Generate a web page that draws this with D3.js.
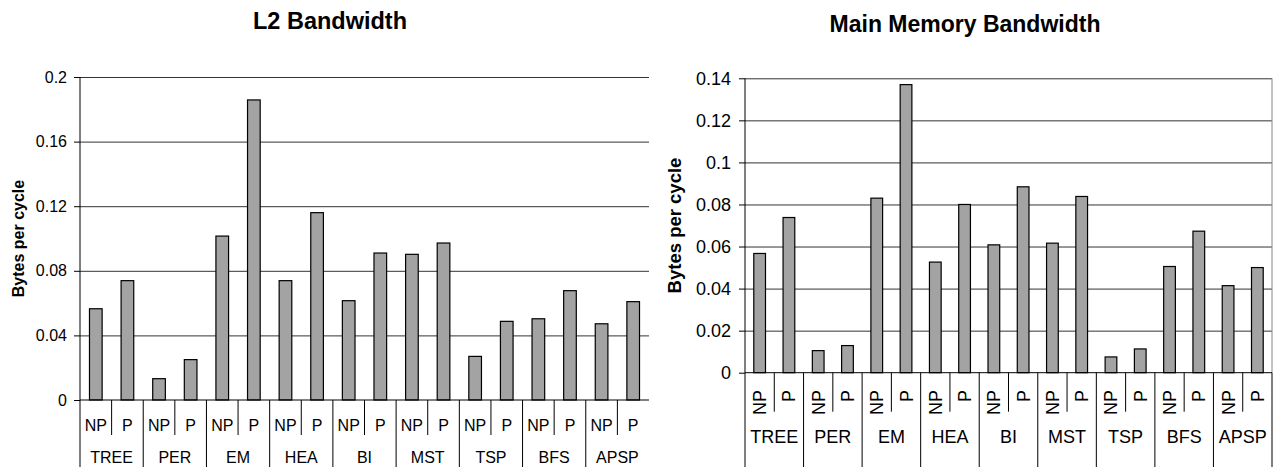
<!DOCTYPE html>
<html>
<head>
<meta charset="utf-8">
<script src="https://cdn.jsdelivr.net/npm/d3@7"></script>
<style>
  body { margin: 0; background: #fff; }
  svg { font-family: "Liberation Sans", Arial, sans-serif; }
  .axis path { display: none; }
  .axis line { stroke: #000; }
  .grid line { stroke: #333; }
  .grid path, .grid text { display: none; }
</style>
</head>
<body>
<script>
var groups = ["TREE", "PER", "EM", "HEA", "BI", "MST", "TSP", "BFS", "APSP"];
var modes = ["NP", "P"];

var l2NP = [0.0565, 0.0132, 0.1015, 0.0739, 0.0615, 0.0902, 0.0270, 0.0503, 0.0472];
var l2P  = [0.0739, 0.0250, 0.1858, 0.1160, 0.0910, 0.0972, 0.0487, 0.0677, 0.0609];
var l2Ticks = [0, 0.04, 0.08, 0.12, 0.16, 0.2];

var memNP = [0.0567, 0.0105, 0.0830, 0.0526, 0.0608, 0.0616, 0.0075, 0.0505, 0.0414];
var memP  = [0.0738, 0.0129, 0.1370, 0.0800, 0.0884, 0.0838, 0.0113, 0.0673, 0.0500];
var memTicks = [0, 0.02, 0.04, 0.06, 0.08, 0.1, 0.12, 0.14];

var svg = d3.select("body").append("svg")
  .attr("width", 1279)
  .attr("height", 467);

function rows(np, p) {
  return groups.map(function(g, i) {
    return {group: g, values: [{mode: "NP", v: np[i]}, {mode: "P", v: p[i]}]};
  });
}

function drawChart(c) {
  var x0 = d3.scaleBand().domain(groups).range([c.left, c.right]);
  var x1 = d3.scaleBand().domain(modes).range([0, x0.bandwidth()])
    .paddingInner(0.6).paddingOuter(0.3);
  var y = d3.scaleLinear().domain([0, c.max]).range([c.bottom, c.top]);

  var g = svg.append("g");

  // gridlines
  g.append("g")
    .attr("class", "grid")
    .attr("transform", "translate(" + c.left + ",0)")
    .call(d3.axisLeft(y).tickValues(c.ticks.slice(1)).tickSize(-(c.right - c.left)));

  if (c.border) {
    g.append("line")
      .attr("x1", c.right).attr("x2", c.right)
      .attr("y1", y(c.max)).attr("y2", y(0))
      .attr("stroke", "#888");
  }

  // bars
  var grp = g.selectAll(".grp")
    .data(rows(c.np, c.p))
    .enter().append("g")
    .attr("transform", function(d) { return "translate(" + x0(d.group) + ",0)"; });

  grp.selectAll("rect")
    .data(function(d) { return d.values; })
    .enter().append("rect")
    .attr("x", function(d) { return x1(d.mode); })
    .attr("width", x1.bandwidth())
    .attr("y", function(d) { return y(d.v); })
    .attr("height", function(d) { return y(0) - y(d.v); })
    .attr("fill", "#a3a3a3")
    .attr("stroke", "#000")
    .attr("stroke-width", 1.2);

  // y axis
  var ya = g.append("g")
    .attr("class", "axis")
    .attr("transform", "translate(" + c.left + ",0)")
    .call(d3.axisLeft(y).tickValues(c.ticks).tickSize(6).tickPadding(c.tickPad)
      .tickFormat(function(d) { return String(+d.toFixed(2)); }));
  ya.selectAll("text").attr("font-size", c.font).attr("fill", "#000").attr("font-family", null);
  g.append("line")
    .attr("x1", c.left).attr("x2", c.left)
    .attr("y1", y(c.max)).attr("y2", 467)
    .attr("stroke", "#000");

  // x axis baseline
  g.append("line")
    .attr("x1", c.left).attr("x2", c.right)
    .attr("y1", y(0)).attr("y2", y(0))
    .attr("stroke", "#000");

  // group dividers
  g.selectAll(".gdiv")
    .data(groups.slice(1).concat(c.lastDiv ? ["end"] : []))
    .enter().append("line")
    .attr("x1", function(d) { return d == "end" ? c.right : x0(d); })
    .attr("x2", function(d) { return d == "end" ? c.right : x0(d); })
    .attr("y1", y(0)).attr("y2", 467)
    .attr("stroke", "#000");

  // sub dividers
  grp.append("line")
    .attr("x1", x0.bandwidth() / 2).attr("x2", x0.bandwidth() / 2)
    .attr("y1", y(0)).attr("y2", c.subBottom)
    .attr("stroke", "#000");

  // sub labels
  grp.selectAll(".sub")
    .data(modes)
    .enter().append("text")
    .attr("font-size", c.font)
    .attr("transform", function(d) {
      var cx = x1(d) + x1.bandwidth() / 2;
      return c.rotate ? "translate(" + (cx + c.font * 0.36) + "," + c.subY + ") rotate(-90)"
                      : "translate(" + cx + "," + c.subY + ")";
    })
    .attr("text-anchor", c.rotate ? "end" : "middle")
    .text(function(d) { return d; });

  // group labels
  grp.append("text")
    .attr("font-size", c.font)
    .attr("x", x0.bandwidth() / 2)
    .attr("y", c.groupY)
    .attr("text-anchor", "middle")
    .text(function(d) { return d.group; });

  // y title
  g.append("text")
    .attr("transform", "translate(" + c.ylabX + "," + ((c.top + c.bottom) / 2) + ") rotate(-90)")
    .attr("text-anchor", "middle")
    .attr("font-weight", "bold")
    .attr("font-size", c.ylabFont)
    .text("Bytes per cycle");

  // chart title
  g.append("text")
    .attr("x", c.titleX)
    .attr("y", c.titleY)
    .attr("text-anchor", "middle")
    .attr("font-weight", "bold")
    .attr("font-size", c.titleFont)
    .text(c.title);
}

drawChart({
  title: "L2 Bandwidth", titleX: 330, titleY: 29, titleFont: 23.5,
  np: l2NP, p: l2P, ticks: l2Ticks, max: 0.2,
  left: 80, right: 649, top: 77, bottom: 400,
  font: 16, tickPad: 7, ylabX: 24, ylabFont: 16,
  rotate: false, subY: 431, subBottom: 435, groupY: 463,
  border: false, lastDiv: false
});

drawChart({
  title: "Main Memory Bandwidth", titleX: 965, titleY: 31.5, titleFont: 23,
  np: memNP, p: memP, ticks: memTicks, max: 0.14,
  left: 745, right: 1272, top: 78.3, bottom: 372.7,
  font: 18, tickPad: 8, ylabX: 681, ylabFont: 18.5,
  rotate: true, subY: 390, subBottom: 411.7, groupY: 443,
  border: true, lastDiv: true
});
</script>
</body>
</html>
